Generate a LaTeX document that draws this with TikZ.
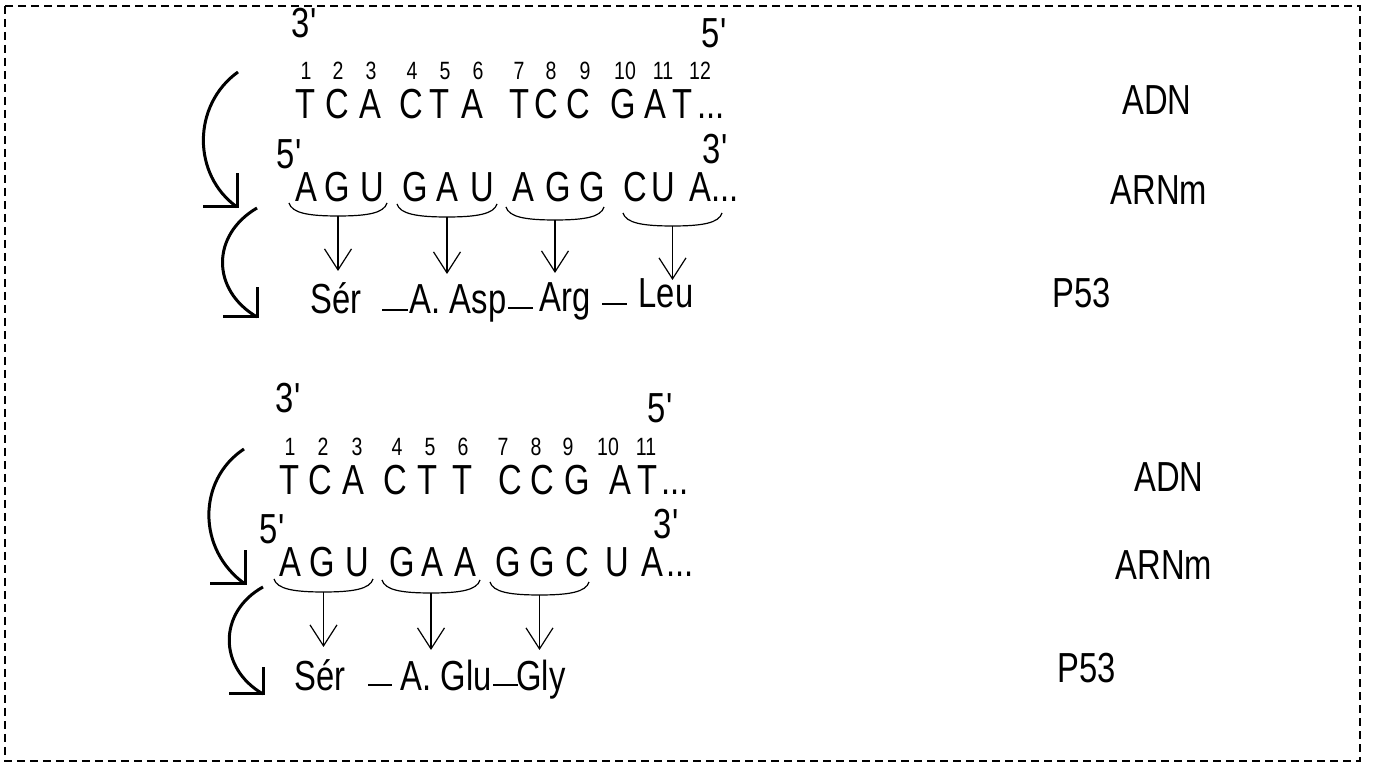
\documentclass[tikz,border=0pt]{standalone}
\usepackage{fontspec}
\setmainfont{Liberation Sans}[FakeStretch=0.78]
\usetikzlibrary{arrows.meta}
\newcommand{\tridots}{...}
\newcommand{\primq}{\textquotesingle}
\begin{document}
\begin{tikzpicture}[x=0.5pt,y=-0.5pt,
  nt/.style={inner sep=0pt, anchor=base, font=\fontsize{21}{24}\selectfont},
  num/.style={inner sep=0pt, anchor=base, font=\fontsize{12.5}{14}\selectfont},
  bracepath/.style={line width=0.6pt},
  codon/.style={line width=0.6pt, -{Straight Barb[length=10.5pt,width=13.5pt]}},
  bigarc/.style={line width=1.5pt},
  bigtip/.style={line width=1.5pt, line join=miter},
  bond/.style={line width=0.55pt},
  frame/.style={dash pattern=on 4pt off 2.5pt, line width=0.85pt}]
\useasboundingbox (0,0) rectangle (1373,763);
\draw[frame] (5,6) rectangle (1360,761);

% ================= TOP BLOCK =================
\node[nt] (t3p) at (305,38) {3\primq};
\node[nt] (t5p) at (715,48) {5\primq};
\foreach \xx/\nn [count=\i] in {306/1,338/2,371/3,412/4,445/5,478/6,519/7,551/8,585/9,625/10,663/11,700/12}
  \node[num] (tn\i) at (\xx,80) {\nn};
\foreach \xx/\ll [count=\i] in {306/T,337/C,370/A,411/C,440/T,472/A,520/T,546/C,578/C,623/G,655/A,683/T,711/\tridots}
  \node[nt] (td\i) at (\xx,119) {\ll};
\node[nt] (tm5p) at (290,169) {5\primq};
\node[nt] (tm3p) at (716,164) {3\primq};
\foreach \xx/\ll [count=\i] in {306/A,337/G,372/U,415/G,447/A,482/U,523/A,558/G,592/G,635/C,663/U,700/A,725/\tridots}
  \node[nt] (tr\i) at (\xx,202) {\ll};
\foreach \xl/\xr/\yt/\yb/\yp [count=\i] in {289/387/203/216/271,397/497/204/217/274,506/604/207/220/273,623/722/213/226/280}{
  \pgfmathsetmacro\xm{(\xl+\xr)/2}
  \coordinate (tbl\i) at (\xl,\yt);
  \coordinate (tbr\i) at (\xr,\yt);
  \coordinate (tbc\i) at (\xm,\yb);
  \coordinate (tbp\i) at (\xm,\yp);
  \draw[bracepath] (tbl\i) .. controls +(3,10) and +(-30,0) .. (tbc\i) .. controls +(30,0) and +(-3,10) .. (tbr\i);
  \draw[codon] (tbc\i) -- (tbp\i);
}
\node[nt] (tser) at (336,314) {Sér};
\node[nt] (tasp) at (458,314) {A. Asp};
\node[nt] (targ) at (565,312) {Arg};
\node[nt] (tleu) at (666,308) {Leu};
\coordinate (tb1a) at (382,310); \coordinate (tb1b) at (408,310);
\coordinate (tb2a) at (508,308); \coordinate (tb2b) at (533,308);
\coordinate (tb3a) at (602,304); \coordinate (tb3b) at (627,304);
\draw[bond] (tb1a) -- (tb1b);
\draw[bond] (tb2a) -- (tb2b);
\draw[bond] (tb3a) -- (tb3b);
\node[nt] (tadn) at (1157,115) {ADN};
\node[nt] (tarn) at (1159,205) {ARNm};
\node[nt] (tp53) at (1082,308) {P53};
% big arcs
\coordinate (ta1s) at (238,72); \coordinate (ta1e) at (237,207);
\draw[bigarc] (ta1s) .. controls (192,105) and (192,175) .. (ta1e);
\draw[bigtip] (ta1e) ++(-34,0) -- (ta1e) -- ++(0,-34);
\coordinate (ta2s) at (257,208); \coordinate (ta2e) at (257,317);
\draw[bigarc] (ta2s) .. controls (211,235) and (211,290) .. (ta2e);
\draw[bigtip] (ta2e) ++(-34,0) -- (ta2e) -- ++(0,-30);

% ================= BOTTOM BLOCK =================
\node[nt] (b3p) at (289,413) {3\primq};
\node[nt] (b5p) at (661,423) {5\primq};
\foreach \xx/\nn [count=\i] in {290/1,323/2,357/3,397/4,430/5,463/6,503/7,536/8,568/9,608/10,646/11}
  \node[num] (bn\i) at (\xx,456) {\nn};
\foreach \xx/\ll [count=\i] in {290/T,320/C,353/A,395/C,428/T,463/T,510/C,542/C,577/G,620/A,648/T,675/\tridots}
  \node[nt] (bd\i) at (\xx,495) {\ll};
\node[nt] (bm5p) at (273,544) {5\primq};
\node[nt] (bm3p) at (667,539) {3\primq};
\foreach \xx/\ll [count=\i] in {290/A,322/G,357/U,402/G,432/A,465/A,508/G,542/G,577/C,617/U,652/A,680/\tridots}
  \node[nt] (br\i) at (\xx,577) {\ll};
\foreach \xl/\xr/\yt/\yb/\yp [count=\i] in {274/373/579/592/647,382/480/580/593/650,490/589/582/595/650}{
  \pgfmathsetmacro\xm{(\xl+\xr)/2}
  \coordinate (bbl\i) at (\xl,\yt);
  \coordinate (bbr\i) at (\xr,\yt);
  \coordinate (bbc\i) at (\xm,\yb);
  \coordinate (bbp\i) at (\xm,\yp);
  \draw[bracepath] (bbl\i) .. controls +(3,10) and +(-30,0) .. (bbc\i) .. controls +(30,0) and +(-3,10) .. (bbr\i);
  \draw[codon] (bbc\i) -- (bbp\i);
}
\node[nt] (bser) at (320,691) {Sér};
\node[nt] (bglu) at (446,691) {A. Glu};
\node[nt] (bgly) at (541,691) {Gly};
\coordinate (bb1a) at (368,685); \coordinate (bb1b) at (392,685);
\coordinate (bb2a) at (493,685); \coordinate (bb2b) at (518,685);
\draw[bond] (bb1a) -- (bb1b);
\draw[bond] (bb2a) -- (bb2b);
\node[nt] (badn) at (1169,492) {ADN};
\node[nt] (barn) at (1164,580) {ARNm};
\node[nt] (bp53) at (1087,683) {P53};
% big arcs
\coordinate (ba1s) at (244,449); \coordinate (ba1e) at (245,584);
\draw[bigarc] (ba1s) .. controls (197,480) and (197,550) .. (ba1e);
\draw[bigtip] (ba1e) ++(-35,0) -- (ba1e) -- ++(0,-34);
\coordinate (ba2s) at (263,587); \coordinate (ba2e) at (263,694);
\draw[bigarc] (ba2s) .. controls (218,612) and (218,668) .. (ba2e);
\draw[bigtip] (ba2e) ++(-34,0) -- (ba2e) -- ++(0,-27);
\end{tikzpicture}
\end{document}
